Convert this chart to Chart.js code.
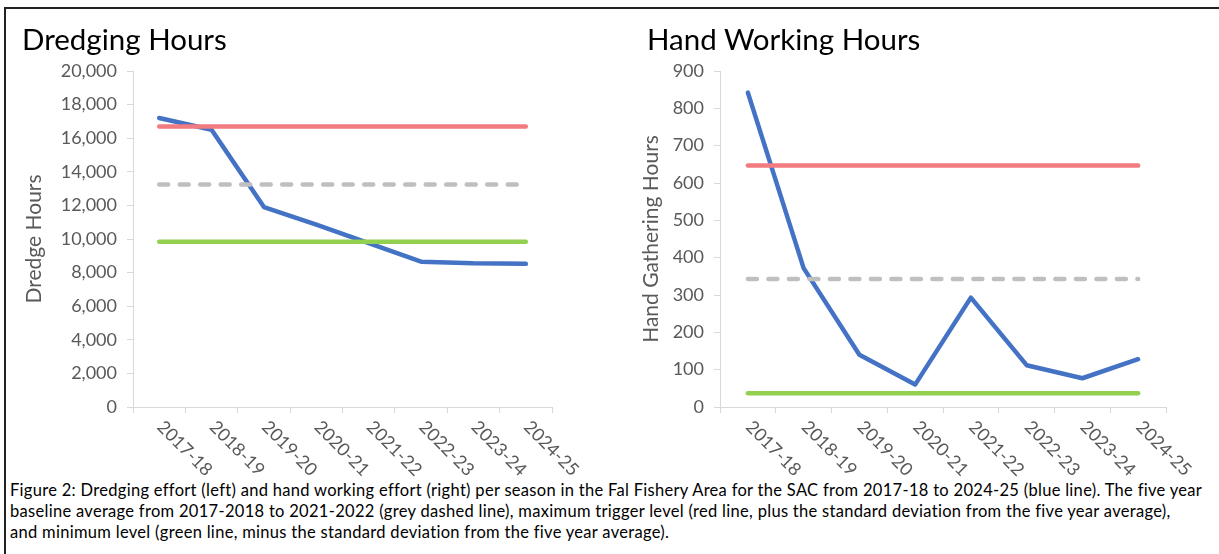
<!DOCTYPE html>
<html>
<head>
<meta charset="utf-8">
<script src="https://cdn.jsdelivr.net/npm/chart.js@4.4.1/dist/chart.umd.min.js"></script>
<style>
  html, body { margin: 0; padding: 0; background: #fff; }
  body { width: 1219px; height: 554px; position: relative; overflow: hidden; font-family: Lato, "Open Sans", sans-serif; }
  .frame { position: absolute; left: 4px; top: 7px; right: -4px; bottom: -4px; border-top: 2px solid #222; border-left: 2px solid #222; }
  .box { position: absolute; top: 0; height: 480px; }
  .title { position: absolute; top: 21px; font-size: 29.5px; color: #000; white-space: nowrap; }
  .caption { position: absolute; left: 10px; top: 480px; font-size: 16.5px; letter-spacing: 0.3px; line-height: 21px; color: #000; white-space: nowrap; }
</style>
</head>
<body>
<div class="frame"></div>
<div class="box" style="left:0;width:610px"><canvas id="dredgeChart"></canvas></div>
<div class="box" style="left:610px;width:609px"><canvas id="handChart"></canvas></div>
<div class="title" style="left:22px">Dredging Hours</div>
<div class="title" style="left:647px">Hand Working Hours</div>
<div class="caption">Figure 2: Dredging effort (left) and hand working effort (right) per season in the Fal Fishery Area for the SAC from 2017-18 to 2024-25 (blue line). The five year<br>baseline average from 2017-2018 to 2021-2022 (grey dashed line), maximum trigger level (red line, plus the standard deviation from the five year average),<br>and minimum level (green line, minus the standard deviation from the five year average).</div>
<script>
const seasons = ["2017-18", "2018-19", "2019-20", "2020-21", "2021-22", "2022-23", "2023-24", "2024-25"];

// dredging (left)
const dredgeHours = [17200, 16500, 11900, 10850, 9750, 8650, 8550, 8520];
const dredgeMax = [16700, 16700, 16700, 16700, 16700, 16700, 16700, 16700];
const dredgeAvg = [13250, 13250, 13250, 13250, 13250, 13250, 13250, 13250];
const dredgeMin = [9830, 9830, 9830, 9830, 9830, 9830, 9830, 9830];
const dredgeTicks = [0, 2000, 4000, 6000, 8000, 10000, 12000, 14000, 16000, 18000, 20000];

// hand working (right)
const handHours = [842, 372, 140, 60, 293, 112, 77, 128];
const handMax = [647, 647, 647, 647, 647, 647, 647, 647];
const handAvg = [343, 343, 343, 343, 343, 343, 343, 343];
const handMin = [37, 37, 37, 37, 37, 37, 37, 37];
const handTicks = [0, 100, 200, 300, 400, 500, 600, 700, 800, 900];

const axisGrey = "#d9d9d9";
const textGrey = "#595959";
const font = "Lato";

// season labels run down to the right, which chart.js ticks can't do
const slantLabels = {
  id: "slantLabels",
  afterDraw(chart) {
    const sx = chart.scales.x;
    const ctx = chart.ctx;
    ctx.save();
    ctx.font = "18px " + font;
    ctx.fillStyle = textGrey;
    ctx.textAlign = "left";
    ctx.textBaseline = "middle";
    chart.data.labels.forEach((lab, i) => {
      const x = sx.getPixelForValue(i);
      ctx.save();
      ctx.translate(x + 1, sx.top + 17);
      ctx.rotate(Math.PI / 4);
      ctx.fillText(lab, 0, 0);
      ctx.restore();
    });
    ctx.restore();
  },
};

function line(data, color, dashed) {
  return {
    data: data,
    borderColor: color,
    borderWidth: 4.5,
    borderDash: dashed ? [9, 11.5] : [],
    borderCapStyle: "round",
    borderJoinStyle: "round",
    pointRadius: 0,
    tension: 0,
    fill: false,
  };
}

function makeChart(id, hours, max, avg, min, ticks, yMax, yTitle, yWidth, titlePad, padRight) {
  const ctx = document.getElementById(id).getContext("2d");
  return new Chart(ctx, {
    type: "line",
    data: {
      labels: seasons,
      datasets: [
        line(min, "#92d050"),
        line(avg, "#bfbfbf", true),
        line(max, "#f27b80"),
        line(hours, "#4472c4"),
      ],
    },
    options: {
      responsive: true,
      maintainAspectRatio: false,
      animation: false,
      layout: { padding: { top: 71, right: padRight, bottom: 0, left: 0 } },
      scales: {
        x: {
          offset: true,
          grid: { offset: true, drawOnChartArea: false, tickLength: 6, color: axisGrey },
          border: { color: axisGrey },
          ticks: { display: false },
          afterFit: (s) => { s.height = 73; },
        },
        y: {
          min: 0,
          max: yMax,
          afterBuildTicks: (s) => { s.ticks = ticks.map((v) => ({ value: v })); },
          grid: { drawOnChartArea: false, tickLength: 6, color: axisGrey },
          border: { color: axisGrey },
          ticks: {
            color: textGrey,
            padding: 10,
            font: { family: font, size: 18 },
            callback: (v) => v.toLocaleString("en-GB"),
          },
          title: {
            display: true,
            text: yTitle,
            color: textGrey,
            font: { family: font, size: 21 },
            padding: { top: titlePad, bottom: 0 },
          },
          afterFit: (s) => { s.width = yWidth; },
        },
      },
      plugins: {
        legend: { display: false },
        tooltip: { enabled: false },
      },
    },
    plugins: [slantLabels],
  });
}

makeChart("dredgeChart", dredgeHours, dredgeMax, dredgeAvg, dredgeMin, dredgeTicks, 20000, "Dredge Hours", 133, 22, 58);
makeChart("handChart", handHours, handMax, handAvg, handMin, handTicks, 900, "Hand Gathering Hours", 110, 29, 53);
</script>
</body>
</html>
